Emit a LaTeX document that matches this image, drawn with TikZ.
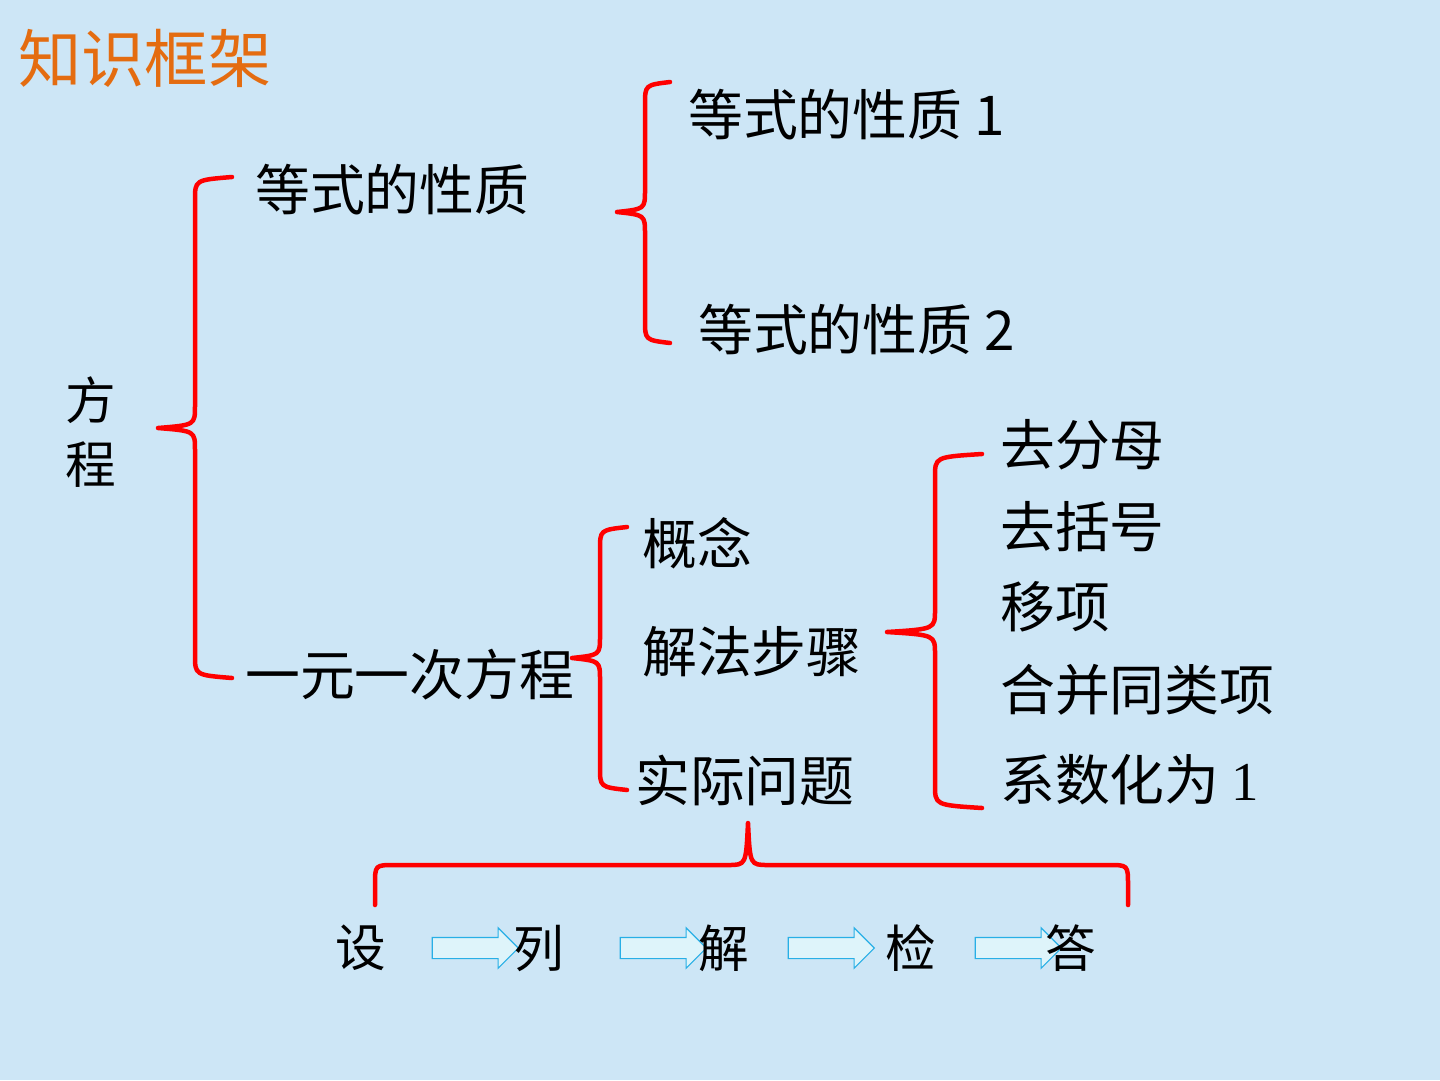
\documentclass[tikz,border=0pt]{standalone}
\usepackage{fontspec}
\setmainfont{Liberation Sans}
\newfontfamily\cjk{Noto Sans CJK SC}
\newfontfamily\myserif{Liberation Serif}
\usetikzlibrary{shapes.arrows,positioning}
\definecolor{myBg}{RGB}{205,230,246}
\definecolor{myOrange}{RGB}{228,108,16}
\definecolor{myCyan}{RGB}{40,175,230}
\definecolor{myArrowFill}{RGB}{222,244,250}
\tikzset{
myText/.style={
	anchor=west, inner sep=0pt, text=black,
	font=\cjk\fontsize{39}{39}\selectfont
}
, myTitle/.style={
	anchor=west, inner sep=0pt, text=myOrange,
	font=\cjk\fontsize{45}{45}\selectfont
}
, myStep/.style={
	anchor=west, inner sep=0pt, text=black,
	font=\cjk\fontsize{36}{36}\selectfont
}
% links
, myBrace/.style={draw=red, line width=3.2pt, line cap=round, line join=round}
, myArrow/.style={
	single arrow, draw=myCyan, fill=myArrowFill, thick,
	minimum height=2.15cm, inner xsep=0pt, inner ysep=0.25cm,
	single arrow head extend=0.24cm
}
}
% brace: tip x, tip y, bar x, top y, bottom y, end x
\newcommand{\myBrace}[6]{%
	\draw[myBrace] (#6,#4-3) .. controls (#3,#4) .. (#3,#4+20) -- (#3,#2-22)
		.. controls (#3,#2-3) .. (#1,#2) .. controls (#3,#2+3) .. (#3,#2+22)
		-- (#3,#5-20) .. controls (#3,#5) .. (#6,#5+3);}

\begin{document}
\begin{tikzpicture}[x=0.025cm, y=-0.025cm]
	% background
	\fill[myBg] (0,0) rectangle (1440,1080);
	% nodes
	\node[myTitle] (Title) at (18,58) {知识框架};
	\node[myStep, align=center, anchor=center, font=\cjk\fontsize{36}{46}\selectfont] (FangCheng) at (91,432) {方\\程};
	\node[myText] (XingZhi) at (255,190) {等式的性质};
	\node[myText] (XingZhiA) at (688,115) {等式的性质 1};
	\node[myText] (XingZhiB) at (698,330) {等式的性质 2};
	\node[myText] (YiYuan) at (245,675) {一元一次方程};
	\node[myText] (GaiNian) at (642,543) {概念};
	\node[myText] (JieFa) at (642,652) {解法步骤};
	\node[myText] (ShiJi) at (635,780) {实际问题};
	% steps
	\node[myText] (QuFen) at (1000,445) {去分母};
	\node[myText] (QuKuo) at (1000,527) {去括号};
	\node[myText] (YiXiang) at (1000,607) {移项};
	\node[myText] (HeBing) at (1000,690) {合并同类项};
	\node[myText] (XiShu) at (1000,780) {系数化为 {\myserif 1}};
	% arrows
	\node[myArrow] (ArrA) at (470,948) {};
	\node[myArrow] (ArrB) at (658,948) {};
	\node[myArrow] (ArrC) at (826,948) {};
	\node[myArrow] (ArrD) at (1013,948) {};
	\node[myStep] (She) at (335,948) {设};
	\node[myStep] (Lie) at (513,948) {列};
	\node[myStep] (Jie) at (698,948) {解};
	\node[myStep] (Jian) at (885,948) {检};
	\node[myStep] (Da) at (1045,948) {答};
	% braces
	\myBrace{158}{428}{195}{180}{675}{232}
	\myBrace{617}{212}{645}{85}{340}{670}
	\myBrace{572}{658}{600}{530}{787}{627}
	\myBrace{887}{632}{935}{457}{805}{982}
	\draw[myBrace] (375,905) -- (375,885) .. controls (375,865) .. (395,865)
		-- (728,865) .. controls (746,865) .. (748,823)
		.. controls (750,865) .. (768,865) -- (1108,865)
		.. controls (1128,865) .. (1128,885) -- (1128,905);
\end{tikzpicture}
\end{document}
